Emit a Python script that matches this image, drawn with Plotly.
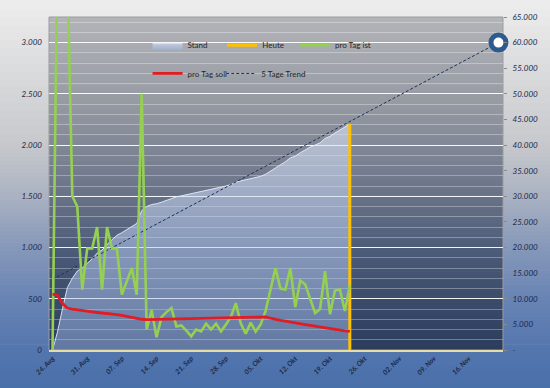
import plotly.graph_objects as go
from datetime import datetime, timedelta

# ---------------- data ----------------
START = datetime(2020, 8, 24)

pro_tag_ist = [0, 3900, 4500, 3750, 1500, 1400, 590, 990, 990, 1200,
               590, 1200, 990, 990, 540, 670, 800, 540, 2500, 200,
               390, 124, 320, 370, 410, 230, 240, 190, 133, 200,
               181, 257, 200, 257, 181, 248, 324, 457, 257, 160,
               267, 180, 250, 380, 600, 800, 600, 590, 800, 420,
               680, 640, 500, 360, 400, 770, 350, 580, 590, 380, 630]

pro_tag_soll = [545, 535, 455, 410, 398, 390, 384, 378, 372, 366,
                362, 358, 352, 345, 338, 328, 318, 308, 300, 296,
                297, 298, 299, 300, 301, 302, 303, 304, 305, 306,
                307, 308, 309, 310, 311, 312, 313, 314, 315, 316,
                317, 318, 320, 322, 310, 297, 290, 282, 272, 264,
                256, 248, 240, 232, 223, 213, 206, 200, 194, 187, 181]

stand = [0, 3500, 8000, 12200, 14000, 15400, 16000, 16900, 17800, 18900,
         19500, 20600, 21500, 22400, 22900, 23500, 24200, 24700, 27200, 28000,
         28400, 28550, 28850, 29200, 29600, 29900, 30100, 30300, 30450, 30650,
         30850, 31100, 31300, 31550, 31750, 32000, 32300, 32750, 33000, 33200,
         33450, 33650, 33900, 34300, 34900, 35600, 36200, 36750, 37500, 37850,
         38500, 39100, 39600, 40000, 40450, 41300, 41700, 42350, 42950, 43400, 44100]

heute_index = 60
trend_days = [0, 90]
trend_values = [13800, 60000]

x_tick_days = [0, 7, 14, 21, 28, 35, 42, 49, 56, 63, 70, 77, 84]
x_tick_labels = ["24. Aug", "31. Aug", "07. Sep", "14. Sep", "21. Sep", "28. Sep",
                 "05. Okt", "12. Okt", "19. Okt", "26. Okt", "02. Nov", "09. Nov", "16. Nov"]
left_tick_vals = [0, 500, 1000, 1500, 2000, 2500, 3000]
left_tick_text = ["0", "500", "1.000", "1.500", "2.000", "2.500", "3.000"]
right_tick_vals = [0, 5000, 10000, 15000, 20000, 25000, 30000, 35000, 40000,
                   45000, 50000, 55000, 60000, 65000]
right_tick_text = ["-", "5.000", "10.000", "15.000", "20.000", "25.000", "30.000",
                   "35.000", "40.000", "45.000", "50.000", "55.000", "60.000", "65.000"]

dates = [START + timedelta(days=i) for i in range(len(stand))]
trend_dates = [START + timedelta(days=d) for d in trend_days]
tick_dates = [START + timedelta(days=d) for d in x_tick_days]
heute_date = dates[heute_index]

# ---------------- layout geometry ----------------
W, H = 550, 388
ML, MR, MT, MB = 49, 45, 12, 34
PW, PH = W - ML - MR, H - MT - MB


def py(p):
    return 1 - (p - MT) / PH


def px(p):
    return (p - ML) / PW


def color_at(stops, y):
    for (y0, c0), (y1, c1) in zip(stops, stops[1:]):
        if y0 <= y <= y1:
            t = (y - y0) / (y1 - y0)
            c = [round(a + (b - a) * t) for a, b in zip(c0, c1)]
            return "rgb(%d,%d,%d)" % tuple(c)
    c = stops[-1][1] if y > stops[-1][0] else stops[0][1]
    return "rgb(%d,%d,%d)" % tuple(c)


page_stops = [(0, (236, 236, 236)), (40, (226, 226, 227)), (144, (198, 200, 204)),
              (196, (170, 178, 194)), (249, (134, 152, 186)), (301, (104, 132, 180)),
              (354, (84, 118, 174)), (388, (74, 112, 170))]
plot_stops = [(12, (178, 180, 185)), (100, (150, 154, 162)), (180, (112, 120, 140)),
              (260, (72, 88, 118)), (354, (44, 60, 92))]

shapes = []
step = 4
for y in range(-8, H + 8, step):
    shapes.append(dict(type="rect", xref="paper", yref="paper", layer="below",
                       x0=px(-10), x1=px(W + 10), y0=py(y + step + 0.7), y1=py(y),
                       fillcolor=color_at(page_stops, y + step / 2), line=dict(width=0)))
step = 3
for y in range(MT, MT + PH, step):
    y2 = min(y + step + 0.7, MT + PH)
    shapes.append(dict(type="rect", xref="paper", yref="paper", layer="below",
                       x0=0, x1=1, y0=py(y2), y1=py(y),
                       fillcolor=color_at(plot_stops, y + step / 2), line=dict(width=0)))
shapes.append(dict(type="rect", xref="paper", yref="paper", layer="below",
                   x0=0, x1=1, y0=0, y1=1, line=dict(color="#9c9c9c", width=1)))

# ---------------- traces ----------------
fig = go.Figure()

fig.add_trace(go.Scatter(
    x=dates, y=stand, name="Stand", mode="lines", yaxis="y", legend="legend",
    line=dict(color="rgba(235,242,255,0.85)", width=1),
    fill="tozeroy",
    fillgradient=dict(type="vertical", start=0, stop=45000,
                      colorscale=[[0, "rgba(160,190,245,0.45)"], [1, "rgba(220,228,245,0.6)"]]),
))

fig.add_trace(go.Scatter(
    x=[heute_date, heute_date], y=[0, stand[heute_index]], name="Heute", mode="lines",
    yaxis="y", legend="legend2", line=dict(color="#ffc000", width=3),
))

fig.add_trace(go.Scatter(
    x=trend_dates, y=trend_values, name="5 Tage Trend", mode="lines", yaxis="y",
    legend="legend5",
    line=dict(color="#1f3358", width=1, dash="3px,2px"),
))

fig.add_trace(go.Scatter(
    x=[trend_dates[-1]], y=[trend_values[-1]], mode="markers", yaxis="y",
    showlegend=False, cliponaxis=False, hoverinfo="skip",
    marker=dict(symbol="circle", size=15, color="white",
                line=dict(color="#2e5b8e", width=5)),
))

fig.add_trace(go.Scatter(
    x=dates, y=pro_tag_ist, name="pro Tag ist", mode="lines", yaxis="y2",
    legend="legend3", line=dict(color="#95d052", width=2.6),
))

fig.add_trace(go.Scatter(
    x=dates, y=pro_tag_soll, name="pro Tag soll", mode="lines", yaxis="y2",
    legend="legend4", line=dict(color="#e31b23", width=2.8),
))

tick_font = dict(family="Lato", size=8, color="#1b2a4a", style="italic")


def leg(text_x, center_y):
    return dict(orientation="h", xanchor="left", yanchor="middle",
                x=px(text_x - 40), y=py(center_y),
                bgcolor="rgba(0,0,0,0)", borderwidth=0,
                font=dict(family="Lato", size=8, color="#262626"),
                itemwidth=30)


fig.update_layout(
    width=W, height=H,
    margin=dict(l=ML, r=MR, t=MT, b=MB, pad=0),
    paper_bgcolor="#d0d2d6",
    plot_bgcolor="rgba(0,0,0,0)",
    shapes=shapes,
    showlegend=True,
    legend=leg(188, 41),
    legend2=leg(263, 41),
    legend3=leg(336, 41),
    legend4=leg(188, 70),
    legend5=leg(262, 70),
    xaxis=dict(type="date",
               range=[START - timedelta(hours=17), START + timedelta(days=90, hours=22)],
               tickmode="array", tickvals=tick_dates, ticktext=x_tick_labels,
               tickangle=-45,
               tickfont=dict(family="Lato", size=7, color="#1b2a4a", style="italic", weight="bold"),
               showgrid=False, zeroline=False, ticks="",
               showline=True, linecolor="#e6dca6", linewidth=1.5),
    yaxis=dict(side="right", range=[0, 65000], tickmode="array",
               tickvals=right_tick_vals, ticktext=right_tick_text,
               showgrid=False, zeroline=False, showline=False,
               ticks="outside", ticklen=3, tickcolor="#8a8a8a",
               ticklabelstandoff=4,
               tickfont=tick_font),
    yaxis2=dict(overlaying="y", side="left", range=[0, 3250], tickmode="array",
                tickvals=left_tick_vals, ticktext=left_tick_text,
                showgrid=True, gridcolor="rgba(255,255,255,0.9)", gridwidth=1.3,
                minor=dict(tick0=0, dtick=100, showgrid=True,
                           gridcolor="rgba(255,255,255,0.32)", gridwidth=1),
                zeroline=False, showline=False, ticks="",
                ticklabelstandoff=6,
                tickfont=tick_font),
)

fig.write_html("out.html", config={"displayModeBar": False},
               post_script="document.body.style.margin='0';document.body.style.padding='0';")
